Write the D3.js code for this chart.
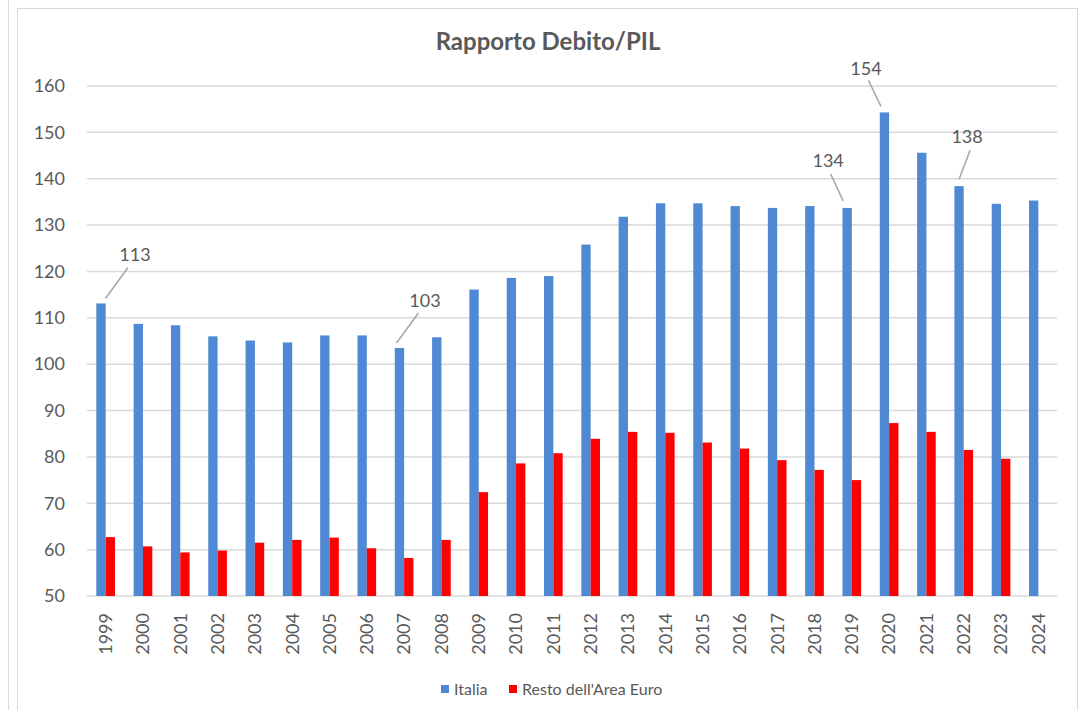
<!DOCTYPE html>
<meta charset="utf-8">
<style>
    body {
        margin: 0;
        background-color: #ffffff;
    }

    text {
        font-family: Lato, "Open Sans", sans-serif;
        fill: #595959;
    }
</style>

<body>
    <script src="https://d3js.org/d3.v7.min.js"></script>

    <script>
        var width = 1088,
            height = 710;

        // anni e valori (rapporto debito/PIL, %)
        const years = ["1999", "2000", "2001", "2002", "2003", "2004", "2005", "2006", "2007", "2008",
            "2009", "2010", "2011", "2012", "2013", "2014", "2015", "2016", "2017", "2018",
            "2019", "2020", "2021", "2022", "2023", "2024"];

        const italia = [113.1, 108.7, 108.4, 106.0, 105.1, 104.7, 106.2, 106.2, 103.5, 105.8,
            116.1, 118.6, 119.0, 125.8, 131.8, 134.7, 134.7, 134.1, 133.7, 134.1,
            133.7, 154.3, 145.6, 138.4, 134.6, 135.3];

        const restoEuro = [62.7, 60.7, 59.4, 59.8, 61.5, 62.1, 62.6, 60.3, 58.2, 62.1,
            72.4, 78.6, 80.8, 83.9, 85.4, 85.2, 83.1, 81.8, 79.3, 77.2,
            75.0, 87.3, 85.4, 81.5, 79.6, null];

        const seriesNames = ["Italia", "Resto dell'Area Euro"];
        const seriesColors = ["#4f88d3", "#ff0000"];

        const yTicks = [50, 60, 70, 80, 90, 100, 110, 120, 130, 140, 150, 160];

        // etichette sui massimi/minimi
        const annotYears = ["1999", "2007", "2019", "2020", "2022"];
        const annotLabels = ["113", "103", "134", "154", "138"];

        var svg = d3.select("body").append("svg")
            .attr("width", width)
            .attr("height", height)

        // cornice
        svg.append("line")
            .attr("x1", 8.5).attr("x2", 8.5)
            .attr("y1", 0).attr("y2", height)
            .attr("stroke", "#d9d9d9")
        svg.append("rect")
            .attr("x", 17.5).attr("y", 8.5)
            .attr("width", 1060).attr("height", 710)
            .attr("fill", "none")
            .attr("stroke", "#d9d9d9")

        var x0 = d3.scaleBand()
            .domain(years)
            .range([87, 1057]);

        var step = x0.step();

        var x1 = d3.scaleBand()
            .domain(seriesNames)
            .range([step * 0.25, step * 0.75]);

        var y = d3.scaleLinear()
            .domain([50, 160])
            .range([596, 86]);

        // griglia
        svg.append("g")
            .selectAll("line")
            .data(yTicks)
            .enter().append("line")
            .attr("x1", 87)
            .attr("x2", 1057)
            .attr("y1", d => y(d))
            .attr("y2", d => y(d))
            .attr("stroke", "#d9d9d9")
            .attr("stroke-width", 1.5)

        // etichette asse y
        svg.append("g")
            .selectAll("text")
            .data(yTicks)
            .enter().append("text")
            .attr("x", 65)
            .attr("y", d => y(d))
            .attr("dy", "0.35em")
            .attr("text-anchor", "end")
            .attr("font-size", 18)
            .text(d => d)

        // barre
        const rows = years.map((yr, i) => ({ year: yr, vals: [italia[i], restoEuro[i]] }));

        var groups = svg.append("g")
            .selectAll("g")
            .data(rows)
            .enter().append("g")
            .attr("transform", d => "translate(" + x0(d.year) + ",0)");

        groups.selectAll("rect")
            .data(d => d.vals.map((v, k) => ({ key: seriesNames[k], k: k, v: v })).filter(e => e.v != null))
            .enter().append("rect")
            .attr("x", d => x1(d.key))
            .attr("width", x1.bandwidth())
            .attr("y", d => y(d.v))
            .attr("height", d => y(50) - y(d.v))
            .attr("fill", d => seriesColors[d.k])

        // etichette asse x (ruotate)
        svg.append("g")
            .selectAll("text")
            .data(years)
            .enter().append("text")
            .attr("transform", d => "translate(" + (x0(d) + step / 2) + ",613) rotate(-90)")
            .attr("dy", "0.35em")
            .attr("text-anchor", "end")
            .attr("font-size", 18)
            .text(d => d)

        // annotazioni con linea guida
        // offset relativi alla cima della barra: [inizio linea, fine linea, testo]
        const annotOffsets = [
            [[4.5, -5], [27, -36], [34, -49]],
            [[-3, -5], [19, -35], [25.5, -47]],
            [[-4, -7], [-16.5, -34], [-19, -47]],
            [[-3.5, -6], [-16, -32], [-18.5, -44]],
            [[0, -7], [11, -36], [8, -49]]
        ];

        annotYears.forEach(function (yr, i) {
            const idx = years.indexOf(yr);
            const cx = x0(yr) + x1("Italia") + x1.bandwidth() / 2;
            const cy = y(italia[idx]);
            const o = annotOffsets[i];
            svg.append("line")
                .attr("x1", cx + o[0][0]).attr("y1", cy + o[0][1])
                .attr("x2", cx + o[1][0]).attr("y2", cy + o[1][1])
                .attr("stroke", "#a6a6a6")
                .attr("stroke-width", 1.5)
            svg.append("text")
                .attr("x", cx + o[2][0])
                .attr("y", cy + o[2][1])
                .attr("dy", "0.35em")
                .attr("text-anchor", "middle")
                .attr("font-size", 18)
                .text(annotLabels[i])
        })

        // titolo
        svg.append("text")
            .attr("x", 548)
            .attr("y", 50)
            .attr("text-anchor", "middle")
            .attr("font-size", 24)
            .attr("font-weight", "bold")
            .text("Rapporto Debito/PIL")

        // legenda
        const legendX = [441, 509];
        var legend = svg.append("g")
            .selectAll("g")
            .data(seriesNames)
            .enter().append("g")
            .attr("transform", (d, i) => "translate(" + legendX[i] + ",685)");

        legend.append("rect")
            .attr("width", 8)
            .attr("height", 8)
            .attr("y", 0)
            .attr("fill", (d, i) => seriesColors[i])

        legend.append("text")
            .attr("x", 13)
            .attr("y", 4)
            .attr("dy", "0.35em")
            .attr("font-size", 16)
            .text(d => d)
    </script>
</body>

</html>
